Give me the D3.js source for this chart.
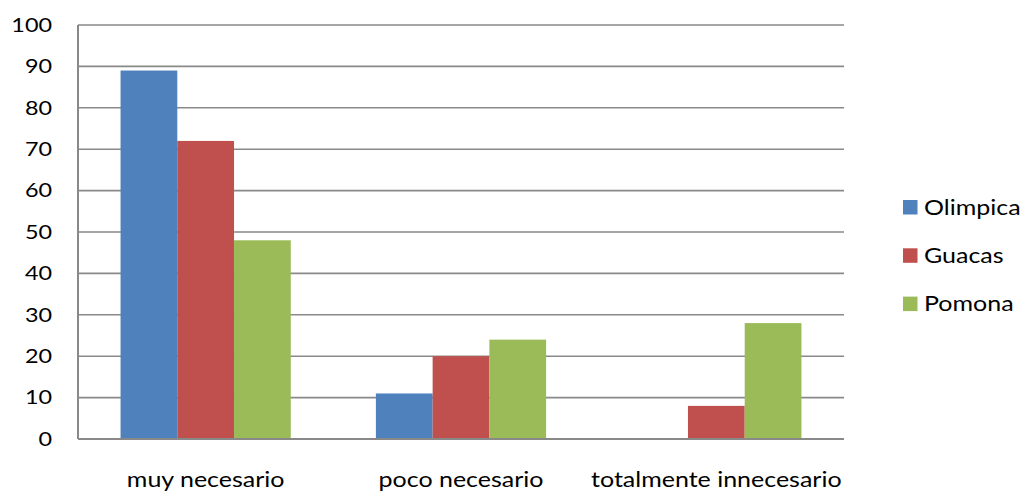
<!DOCTYPE html>
<html>
<head>
<meta charset="utf-8">
<script src="https://cdn.jsdelivr.net/npm/d3@7"></script>
<style>
  body { margin: 0; background: #fff; }
  text { font-family: Lato, "Liberation Sans", sans-serif; fill: #000; }
</style>
</head>
<body>
<div id="container"></div>
<script>
const categories = ["muy necesario", "poco necesario", "totalmente innecesario"]
const seriesNames = ["Olimpica", "Guacas", "Pomona"]
const olimpica = [89, 11, 0]
const guacas = [72, 20, 8]
const pomona = [48, 24, 28]
const yTicks = [0, 10, 20, 30, 40, 50, 60, 70, 80, 90, 100]
const colors = ["#4F81BD", "#C0504D", "#9BBB59"]

const values = [olimpica, guacas, pomona]

const width = 1021
const height = 493
const plotLeft = 78, plotRight = 844, plotTop = 25, plotBottom = 439
// the source picture is stretched sideways, so text gets a wider x scale
const stretch = 1.19

const svg = d3.select("#container")
    .append("svg")
    .attr("width", width)
    .attr("height", height)

const y = d3.scaleLinear()
    .domain([0, 100])
    .range([plotBottom, plotTop])

// gap width 150%: one and a half bars between clusters
const x0 = d3.scaleBand()
    .domain(categories)
    .range([plotLeft, plotRight])
    .paddingInner(1 / 3)
    .paddingOuter(1 / 6)

const x1 = d3.scaleBand()
    .domain(seriesNames)
    .range([0, x0.bandwidth()])

// gridlines
svg.append("g")
    .selectAll("line")
    .data(yTicks)
    .enter()
    .append("line")
    .attr("x1", plotLeft)
    .attr("x2", plotRight)
    .attr("y1", d => y(d))
    .attr("y2", d => y(d))
    .style("stroke", "#898989")
    .style("stroke-width", 1.6)

// y labels
svg.append("g")
    .selectAll("text")
    .data(yTicks)
    .enter()
    .append("text")
    .attr("transform", d => `translate(52, ${y(d)}) scale(${stretch + 0.04}, 1)`)
    .attr("dy", "0.36em")
    .attr("text-anchor", "end")
    .attr("font-size", 19)
    .text(d => d)

// bars
const groups = svg.append("g")
    .selectAll("g")
    .data(seriesNames)
    .enter()
    .append("g")
    .style("fill", (d, i) => colors[i])

groups.selectAll("rect")
    .data((s, si) => categories.map((c, ci) => ({ series: s, cat: c, value: values[si][ci] })))
    .enter()
    .append("rect")
    .attr("x", d => x0(d.cat) + x1(d.series))
    .attr("y", d => y(d.value))
    .attr("width", x1.bandwidth())
    .attr("height", d => y(0) - y(d.value))

// axis lines
svg.append("line")
    .attr("x1", plotLeft).attr("x2", plotLeft)
    .attr("y1", plotTop).attr("y2", plotBottom)
    .style("stroke", "#898989")
    .style("stroke-width", 2)

svg.append("line")
    .attr("x1", plotLeft).attr("x2", plotRight)
    .attr("y1", plotBottom).attr("y2", plotBottom)
    .style("stroke", "#898989")
    .style("stroke-width", 2)

// category labels
svg.append("g")
    .selectAll("text")
    .data(categories)
    .enter()
    .append("text")
    .attr("transform", d => `translate(${x0(d) + x0.bandwidth() / 2}, 487) scale(${stretch}, 1)`)
    .attr("text-anchor", "middle")
    .attr("font-size", 21)
    .text(d => d)

// legend
const legend = svg.append("g")
    .selectAll("g")
    .data(seriesNames)
    .enter()
    .append("g")
    .attr("transform", (d, i) => `translate(903, ${200 + i * 48.3})`)

legend.append("rect")
    .attr("width", 14.5)
    .attr("height", 14.5)
    .style("fill", (d, i) => colors[i])

legend.append("text")
    .attr("transform", `translate(21, 14.8) scale(${stretch}, 1)`)
    .attr("font-size", 21)
    .text(d => d)
</script>
</body>
</html>
